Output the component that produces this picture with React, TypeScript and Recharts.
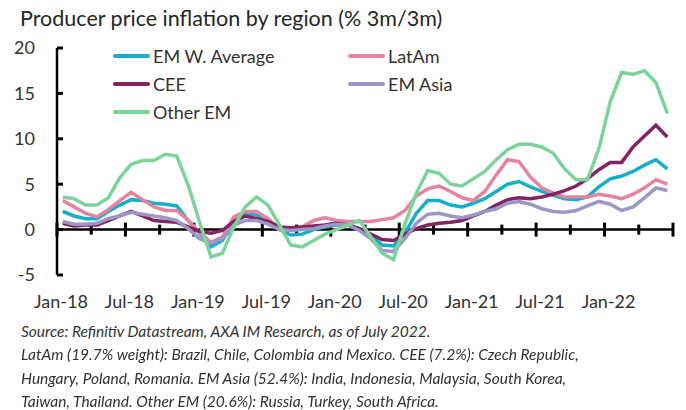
import { ComposedChart, Line, XAxis, YAxis, ReferenceLine, Legend } from "recharts";

// monthly observations, Jan-18 .. Jun-22
const months = [
  "Jan-18", "Feb-18", "Mar-18", "Apr-18", "May-18", "Jun-18", "Jul-18", "Aug-18", "Sep-18", "Oct-18", "Nov-18", "Dec-18",
  "Jan-19", "Feb-19", "Mar-19", "Apr-19", "May-19", "Jun-19", "Jul-19", "Aug-19", "Sep-19", "Oct-19", "Nov-19", "Dec-19",
  "Jan-20", "Feb-20", "Mar-20", "Apr-20", "May-20", "Jun-20", "Jul-20", "Aug-20", "Sep-20", "Oct-20", "Nov-20", "Dec-20",
  "Jan-21", "Feb-21", "Mar-21", "Apr-21", "May-21", "Jun-21", "Jul-21", "Aug-21", "Sep-21", "Oct-21", "Nov-21", "Dec-21",
  "Jan-22", "Feb-22", "Mar-22", "Apr-22", "May-22", "Jun-22",
];

const tickLabels = ["Jan-18", "Jul-18", "Jan-19", "Jul-19", "Jan-20", "Jul-20", "Jan-21", "Jul-21", "Jan-22"];
const yTicks = [-5, 0, 5, 10, 15, 20];
const legendOrder = ["EM W. Average", "LatAm", "CEE", "EM Asia", "Other EM"];

const emAverage = [
  2.0, 1.5, 1.2, 1.2, 2.0, 2.7, 3.3, 3.2, 2.9, 2.8, 2.6, 1.0,
  -0.4, -1.9, -1.2, 1.0, 1.8, 1.6, 0.9, 0.0, -0.6, -0.5, 0.0, 0.3,
  0.5, 0.5, 0.1, -0.6, -1.7, -1.8, -0.4, 1.8, 3.2, 3.2, 2.7, 2.5,
  2.9, 3.4, 4.2, 5.0, 5.3, 4.7, 4.2, 3.8, 3.4, 3.3, 3.6, 4.7,
  5.6, 5.9, 6.4, 7.1, 7.7, 6.7,
];
const latAm = [
  3.2, 2.5, 1.8, 1.4, 2.2, 3.2, 4.1, 3.3, 2.5, 2.1, 2.1, 1.0,
  -0.3, -1.4, -0.8, 1.4, 2.0, 2.0, 1.2, 0.1, 0.0, 0.3, 1.0, 1.3,
  1.0, 0.9, 0.9, 0.9, 1.1, 1.3, 2.1, 3.7, 4.5, 4.8, 4.2, 3.5,
  3.2, 4.2, 6.0, 7.7, 7.5, 5.8, 4.6, 4.0, 3.6, 3.6, 3.6, 3.9,
  3.7, 3.4, 3.9, 4.6, 5.5, 5.0,
];
const cee = [
  0.7, 0.4, 0.5, 0.5, 1.0, 1.5, 2.0, 1.5, 1.0, 0.9, 0.8, 0.3,
  -0.2, -0.4, -0.1, 0.9, 1.5, 1.2, 0.9, 0.3, 0.2, 0.3, 0.4, 0.5,
  0.7, 0.5, 0.1, -0.5, -1.1, -1.2, -0.5, 0.1, 0.5, 0.7, 0.8, 1.0,
  1.5, 2.0, 2.7, 3.3, 3.5, 3.4, 3.6, 3.9, 4.3, 4.8, 5.6, 6.6,
  7.4, 7.4, 9.1, 10.3, 11.5, 10.2,
];
const emAsia = [
  0.9, 0.6, 0.6, 0.7, 1.2, 1.5, 1.9, 1.7, 1.5, 1.3, 1.0, 0.1,
  -1.0, -1.5, -1.0, 0.5, 1.0, 1.0, 0.6, 0.0, -0.1, 0.0, 0.1, 0.4,
  0.6, 0.5, -0.1, -1.0, -2.3, -2.4, -1.0, 0.7, 1.7, 1.8, 1.5, 1.3,
  1.6, 2.0, 2.3, 2.9, 3.1, 2.8, 2.3, 2.0, 1.9, 2.1, 2.6, 3.1,
  2.8, 2.1, 2.5, 3.5, 4.6, 4.3,
];
const otherEm = [
  3.6, 3.4, 2.7, 2.7, 3.5, 5.7, 7.2, 7.6, 7.6, 8.3, 8.1, 4.9,
  0.8, -3.0, -2.6, 0.3, 2.5, 3.6, 2.7, 0.5, -1.7, -1.9, -1.2, -0.5,
  0.0, 0.5, 1.0, -0.8, -2.6, -3.3, 0.6, 4.0, 6.5, 6.2, 5.0, 4.8,
  5.6, 6.4, 7.7, 8.8, 9.4, 9.4, 9.1, 8.4, 6.7, 5.5, 5.5, 8.9,
  14.1, 17.3, 17.1, 17.5, 16.2, 12.8,
];

const footnotes = [
  "Source: Refinitiv Datastream, AXA IM Research, as of July 2022.",
  "LatAm (19.7% weight): Brazil, Chile, Colombia and Mexico. CEE (7.2%): Czech Republic,",
  "Hungary, Poland, Romania. EM Asia (52.4%): India, Indonesia, Malaysia, South Korea,",
  "Taiwan, Thailand. Other EM (20.6%): Russia, Turkey, South Africa.",
];

// points sit in the middle of each month, ticks on month boundaries
const data = months.map((m, i) => ({
  month: m,
  x: i + 0.5,
  emAverage: emAverage[i],
  latAm: latAm[i],
  cee: cee[i],
  emAsia: emAsia[i],
  otherEm: otherEm[i],
}));

const labelTicks = tickLabels.map((l) => months.indexOf(l));
// quarter boundaries get a tick mark on the zero line
const quarterMarks = Array.from({ length: months.length / 3 + 1 }, (_, i) => i * 3);

const FONT = "Lato, 'Open Sans', sans-serif";
const TEXT = "#333";
const Y_MIN = -5;
const Y_MAX = 20;

const renderLegend = (props: any) => {
  const items = [...(props.payload || [])]
    .filter((p: any) => legendOrder.includes(p.value))
    .sort((a: any, b: any) => legendOrder.indexOf(a.value) - legendOrder.indexOf(b.value));
  return (
    <div
      style={{
        display: "grid",
        gridTemplateColumns: "235px 150px",
        gridAutoRows: "28px",
        fontFamily: FONT,
        fontSize: 18,
        color: TEXT,
      }}
    >
      {items.map((p: any) => (
        <div key={p.value} style={{ display: "flex", alignItems: "center" }}>
          <span
            style={{
              display: "inline-block",
              width: 37,
              height: 4,
              borderRadius: 2,
              background: p.color,
              marginRight: 3,
            }}
          />
          <span>{p.value}</span>
        </div>
      ))}
    </div>
  );
};

// vertical reference line shortened to a tick mark around the zero line
const markShape = (len: number) => (p: any) => {
  const { x1, y1, y2 } = p;
  const top = Math.min(y1, y2);
  const bottom = Math.max(y1, y2);
  const zeroY = top + ((Y_MAX - 0) / (Y_MAX - Y_MIN)) * (bottom - top);
  return <line x1={x1} x2={x1} y1={zeroY - len} y2={zeroY + len} stroke="#000" strokeWidth={3} />;
};

const seriesLine = (key: string, name: string, color: string) => (
  <Line
    key={key}
    dataKey={key}
    name={name}
    stroke={color}
    strokeWidth={3.5}
    dot={false}
    activeDot={false}
    type="linear"
    isAnimationActive={false}
  />
);

export default function App() {
  return (
    <div
      style={{
        position: "fixed",
        left: 0,
        top: 0,
        width: 686,
        height: 410,
        background: "#fff",
        fontFamily: FONT,
      }}
    >
      <div
        style={{
          position: "absolute",
          left: 20,
          top: 5,
          fontSize: 21.5,
          color: "#262626",
          whiteSpace: "nowrap",
        }}
      >
        Producer price inflation by region (% 3m/3m)
      </div>

      <div style={{ position: "absolute", left: 0, top: 0 }}>
        <ComposedChart
          width={686}
          height={320}
          data={data}
          margin={{ top: 48, right: 13, left: 0, bottom: 15 }}
        >
          <XAxis
            type="number"
            dataKey="x"
            domain={[0, months.length]}
            ticks={labelTicks}
            tickFormatter={(v) => months[v]}
            axisLine={false}
            tickLine={false}
            tickSize={0}
            tickMargin={20}
            height={30}
            tick={{ fontSize: 18, fill: TEXT, dx: 4, fontFamily: FONT }}
            interval={0}
          />
          <YAxis
            domain={[Y_MIN, Y_MAX]}
            ticks={yTicks}
            width={57}
            axisLine={{ stroke: "#000", strokeWidth: 2.5 }}
            tickLine={{ stroke: "#000", strokeWidth: 3 }}
            tickSize={-6}
            tickMargin={28}
            tick={{ fontSize: 18, fill: TEXT, fontFamily: FONT }}
            interval={0}
          />

          {/* zero line acts as the category axis */}
          <ReferenceLine y={0} stroke="#000" strokeWidth={2.5} />
          {quarterMarks.map((t) => (
            <ReferenceLine
              key={"m" + t}
              x={t}
              stroke="#000"
              ifOverflow="visible"
              shape={markShape(t % 6 === 0 ? 7 : 5)}
            />
          ))}

          <Legend
            content={renderLegend}
            layout="horizontal"
            verticalAlign="middle"
            align="center"
            wrapperStyle={{ left: 113, top: 42, width: 400 }}
          />

          {seriesLine("emAverage", "EM W. Average", "#16AFCA")}
          {seriesLine("latAm", "LatAm", "#E8839F")}
          {seriesLine("cee", "CEE", "#822462")}
          {seriesLine("emAsia", "EM Asia", "#9D96C8")}
          {seriesLine("otherEm", "Other EM", "#7DD49B")}
        </ComposedChart>
      </div>

      {footnotes.map((f, i) => (
        <div
          key={f}
          style={{
            position: "absolute",
            left: 21,
            top: 321 + i * 23.4,
            height: 20,
            fontSize: 15.5,
            lineHeight: "20px",
            fontStyle: "italic",
            color: TEXT,
            whiteSpace: "nowrap",
          }}
        >
          {f}
        </div>
      ))}
    </div>
  );
}
